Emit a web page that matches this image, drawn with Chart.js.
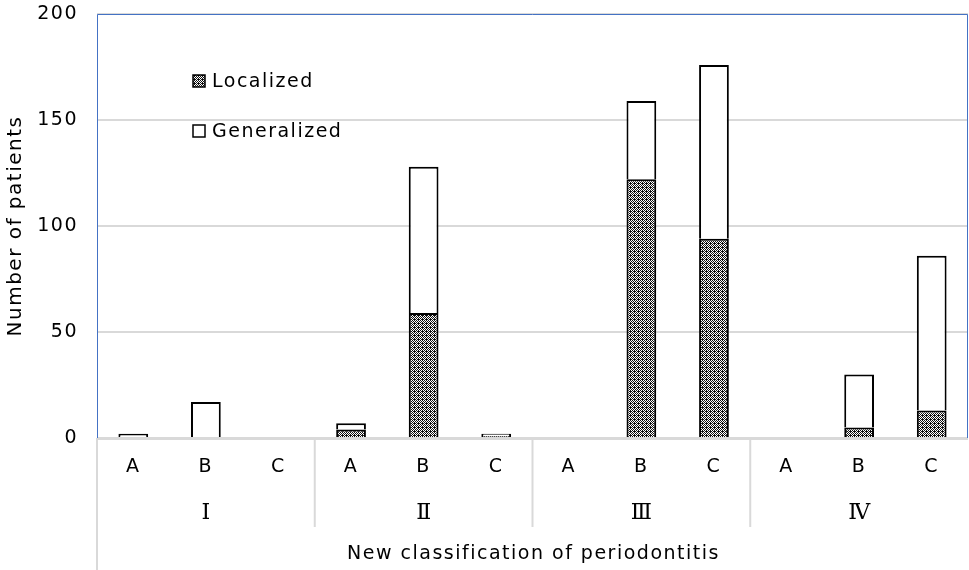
<!DOCTYPE html>
<html><head><meta charset="utf-8">
<script src="https://cdn.jsdelivr.net/npm/chart.js@4/dist/chart.umd.min.js"></script>
<style>html,body{margin:0;padding:0;background:#fff}#wrap{width:969px;height:570px}</style>
</head><body><div id="wrap"><canvas id="c" width="969" height="570"></canvas></div>
<script>
const categories = ['A','B','C','A','B','C','A','B','C','A','B','C'];
const groups = ['Ⅰ','Ⅱ','Ⅲ','Ⅳ'];
const localized = [0, 0, 0, 4, 59, 1, 0, 122, 94, 0, 5, 13];
const generalized = [2, 17, 0, 3, 69, 1, 0, 37, 82, 0, 25, 73];
const yTicks = [0, 50, 100, 150, 200];
const xTitle = 'New classification of periodontitis';
const yTitle = 'Number of patients';

const FONT = 'DejaVu Sans';
const SPACING = '1.5px';

function makePattern() {
  const t = document.createElement('canvas');
  t.width = 4; t.height = 4;
  const g = t.getContext('2d');
  g.fillStyle = '#111'; g.fillRect(0,0,4,4);
  g.fillStyle = '#fff';
  [[1,0],[3,0],[0,1],[2,1],[1,2],[3,2],[0,3]].forEach(p => g.fillRect(p[0],p[1],1,1));
  return document.getElementById('c').getContext('2d').createPattern(t, 'repeat');
}
const pat = makePattern();

const spacing = {
  id: 'spacing',
  beforeLayout(chart) { chart.ctx.letterSpacing = SPACING; },
  beforeDraw(chart) { chart.ctx.letterSpacing = SPACING; }
};

const deco = {
  id: 'deco',
  afterDraw(chart) {
    const ctx = chart.ctx, a = chart.chartArea, x = chart.scales.x;
    ctx.save();
    ctx.strokeStyle = '#d9d9d9'; ctx.lineWidth = 2;
    ctx.beginPath(); ctx.moveTo(a.left, a.bottom + 1); ctx.lineTo(a.right, a.bottom + 1); ctx.stroke();
    ctx.beginPath(); ctx.moveTo(a.left, a.bottom); ctx.lineTo(a.left, chart.height); ctx.stroke();
    for (let gi = 1; gi < groups.length; gi++) {
      const bx = (x.getPixelForValue(gi*3 - 1) + x.getPixelForValue(gi*3)) / 2;
      ctx.beginPath(); ctx.moveTo(bx, a.bottom); ctx.lineTo(bx, a.bottom + 89); ctx.stroke();
    }
    ctx.fillStyle = '#000'; ctx.textAlign = 'center'; ctx.textBaseline = 'middle';
    ctx.letterSpacing = '0px';
    ctx.font = '22px "DejaVu Serif"';
    groups.forEach((gname, gi) => {
      const cx = x.getPixelForValue(gi*3 + 1);
      ctx.fillText(gname, cx, a.bottom + 75);
    });
    ctx.letterSpacing = SPACING;
    ctx.font = '19px "' + FONT + '"';
    ctx.fillText(xTitle, (a.left + a.right) / 2 + 1, a.bottom + 116);
    ctx.strokeStyle = '#4472c4'; ctx.lineWidth = 1;
    ctx.beginPath();
    ctx.moveTo(a.left + 0.5, a.bottom); ctx.lineTo(a.left + 0.5, a.top + 0.5);
    ctx.lineTo(a.right - 0.5, a.top + 0.5); ctx.lineTo(a.right - 0.5, a.bottom);
    ctx.stroke();
    const items = chart.data.datasets;
    const ly = [81, 131];
    ctx.textAlign = 'left';
    items.forEach((ds, i) => {
      ctx.fillStyle = ds.backgroundColor;
      ctx.fillRect(193, ly[i] - 6, 12, 12);
      ctx.strokeStyle = '#000'; ctx.lineWidth = 1.5;
      ctx.strokeRect(193, ly[i] - 6, 12, 12);
      ctx.fillStyle = '#000';
      ctx.fillText(ds.label, 212, ly[i] + 1);
    });
    ctx.restore();
  }
};

new Chart(document.getElementById('c'), {
  type: 'bar',
  data: {
    labels: categories,
    datasets: [
      { label: 'Localized', data: localized, backgroundColor: pat, borderColor: '#000', borderWidth: 2 },
      { label: 'Generalized', data: generalized, backgroundColor: '#fff', borderColor: '#000', borderWidth: 2 }
    ]
  },
  plugins: [spacing, deco],
  options: {
    responsive: false, animation: false, devicePixelRatio: 1,
    layout: { padding: { top: 14, right: 1, left: 0, bottom: 0 } },
    plugins: { legend: { display: false }, tooltip: { enabled: false } },
    datasets: { bar: { barPercentage: 0.41, categoryPercentage: 1, borderSkipped: 'start' } },
    scales: {
      x: {
        stacked: true,
        grid: { display: false }, border: { display: false },
        ticks: { color: '#000', font: { family: FONT, size: 19 }, padding: 10, maxRotation: 0 },
        afterFit(s) { s.height = 132; s.paddingLeft = 0; s.paddingRight = 0; }
      },
      y: {
        stacked: true, min: 0, max: 200,
        afterBuildTicks(s) { s.ticks = yTicks.map(v => ({ value: v })); },
        grid: { color: '#d9d9d9', lineWidth: 2, drawTicks: false }, border: { display: false },
        ticks: { color: '#000', font: { family: FONT, size: 19 }, padding: 19 },
        title: { display: true, text: yTitle, color: '#000', font: { family: FONT, size: 20 }, padding: { top: 4, bottom: 0 } },
        afterFit(s) { s.width = 97; s.paddingTop = 0; s.paddingBottom = 0; }
      }
    }
  }
});
</script></body></html>
